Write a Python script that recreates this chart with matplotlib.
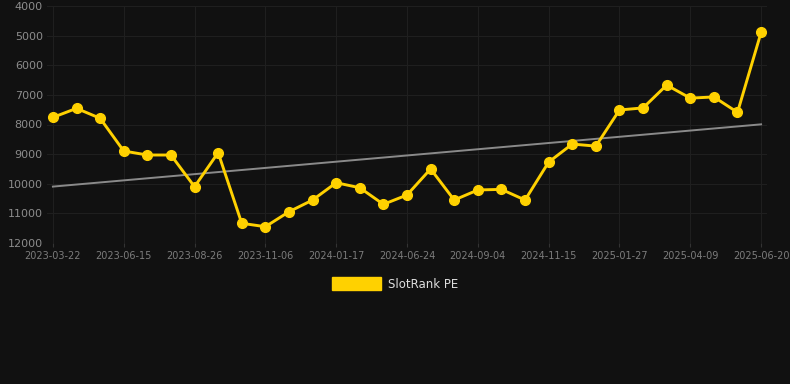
import matplotlib.pyplot as plt
import numpy as np

# SlotRank PE rank values (lower is better, axis inverted)
rank_values = [7760, 7455, 7790, 8895, 9030, 9030, 10100, 8950, 11335, 11450,
               10945, 10550, 9965, 10135, 10695, 10380, 9500, 10550, 10210, 10190,
               10550, 9270, 8660, 8730, 7510, 7440, 6670, 7110, 7070, 7590, 4890]
tick_labels = ['2023-03-22', '2023-06-15', '2023-08-26', '2023-11-06', '2024-01-17',
               '2024-06-24', '2024-09-04', '2024-11-15', '2025-01-27', '2025-04-09',
               '2025-06-20']
y_ticks = [4000, 5000, 6000, 7000, 8000, 9000, 10000, 11000, 12000]

bg = '#111111'
yellow = '#FFD100'


def main():
    fig = plt.figure(figsize=(7.9, 3.84), dpi=100, facecolor=bg)
    ax = fig.add_axes([47 / 790, 1 - 243 / 384, 720 / 790, 237 / 384], facecolor=bg)

    x = np.arange(len(rank_values))

    # linear trend over the series
    coef = np.polyfit(x, rank_values, 1)
    ax.plot(x, np.polyval(coef, x), color='#8a8a8a', lw=1.4, zorder=2)

    ax.plot(x, rank_values, color=yellow, lw=2.1, marker='o', ms=7,
            markerfacecolor=yellow, markeredgecolor=yellow, zorder=3,
            label='SlotRank PE')

    ax.set_xlim(-0.25, len(rank_values) - 0.75)
    ax.set_ylim(12000, 4000)
    ax.set_yticks(y_ticks)
    ax.set_yticklabels([str(v) for v in y_ticks], fontsize=8, color='#8c8c8c')
    ax.set_xticks(x[::3])
    ax.set_xticklabels(tick_labels, fontsize=7, color='#7c7c7c')
    ax.tick_params(axis='y', length=0, pad=3)
    ax.tick_params(axis='x', length=3, color='#333333', pad=3)

    ax.grid(True, color='#1f1f1f', lw=0.8)
    ax.set_axisbelow(True)
    for s in ax.spines.values():
        s.set_visible(False)

    fig.legend(loc='center', bbox_to_anchor=(0.5, 1 - 284 / 384), frameon=False,
               handles=[plt.Rectangle((0, 0), 1, 1, color=yellow)],
               labels=['SlotRank PE'], fontsize=8.5, labelcolor='#dddddd',
               handlelength=4.2, handleheight=1.2, handletextpad=0.6)

    fig.savefig('out.png', facecolor=bg)


if __name__ == "__main__":
    main()
